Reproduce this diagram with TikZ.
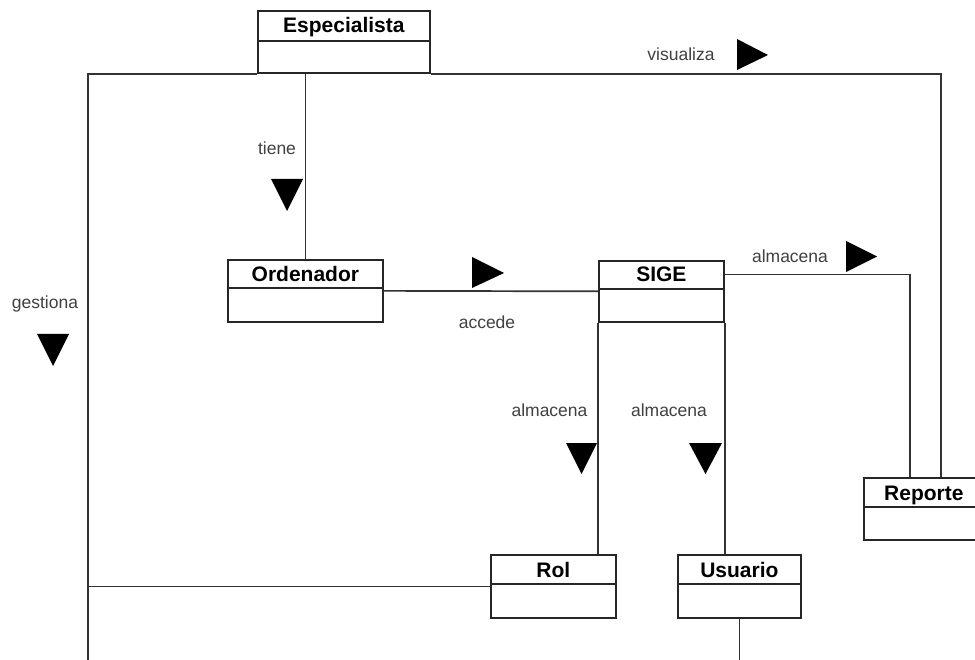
\documentclass[tikz,border=0pt]{standalone}
\usepackage{fontspec}
\setmainfont{Liberation Sans}
\usetikzlibrary{calc}
\begin{document}
\begin{tikzpicture}[x=1pt,y=-1pt,
  classbox/.style={draw=black!85,line width=1.7pt,fill=white,inner sep=0pt,anchor=north west},
  classname/.style={font=\fontsize{21}{24}\selectfont\bfseries,inner sep=0pt,text=black,anchor=base},
  divider/.style={draw=black!85,line width=1.7pt},
  conn/.style={draw=black!80,line width=1.7pt},
  lbl/.style={font=\fontsize{17.5}{20}\selectfont,inner sep=0pt,text=black!75,anchor=base},
  tri/.style={fill=black}]
\useasboundingbox (0,0) rectangle (975,660);
\clip (0,0) rectangle (975,660);
% classes
\node[classbox,minimum width=172pt,minimum height=62pt] (esp) at (257,10) {};
\node[classbox,minimum width=155pt,minimum height=62pt] (ord) at (227,259) {};
\node[classbox,minimum width=125pt,minimum height=61pt] (sige) at (598,260) {};
\node[classbox,minimum width=125pt,minimum height=63pt] (rol) at (490,554) {};
\node[classbox,minimum width=123pt,minimum height=63pt] (usu) at (677,554) {};
\node[classbox,minimum width=120pt,minimum height=62pt] (rep) at (863,477) {};
% dividers
\draw[divider] ([yshift=-31pt]esp.north west) -- ([yshift=-31pt]esp.north east);
\draw[divider] ([yshift=-29pt]ord.north west) -- ([yshift=-29pt]ord.north east);
\draw[divider] ([yshift=-29pt]sige.north west) -- ([yshift=-29pt]sige.north east);
\draw[divider] ([yshift=-30pt]rol.north west) -- ([yshift=-30pt]rol.north east);
\draw[divider] ([yshift=-30pt]usu.north west) -- ([yshift=-30pt]usu.north east);
\draw[divider] ([yshift=-30pt]rep.north west) -- ([yshift=-30pt]rep.north east);
% names
\node[classname] (espn) at ($(esp.north)+(0,23)$) {Especialista};
\node[classname] (ordn) at ($(ord.north)+(0,23)$) {Ordenador};
\node[classname] (sigen) at ($(sige.north)+(0,22)$) {SIGE};
\node[classname] (roln) at ($(rol.north)+(0,23)$) {Rol};
\node[classname] (usun) at ($(usu.north)+(0,23)$) {Usuario};
\node[classname] (repn) at ($(rep.north)+(0,23)$) {Reporte};
% coordinates
\coordinate (gl) at (88,660);
\coordinate (repA) at ($(rep.north west)+(78,0)$);
\coordinate (repB) at ($(rep.north west)+(47,0)$);
\coordinate (sigeNE) at ($(sige.north east)+(0,14.5)$);
% connectors
\draw[conn] (esp.south west) -| (gl);
\draw[conn] (rol.west) -- (rol.west -| gl);
\draw[conn] (esp.south east) -| (repA);
\draw[conn] (ord.north |- esp.south) -- (ord.north);
\draw[conn] (ord.east) -- (sige.west);
\draw[conn] (sigeNE) -| (repB);
\draw[conn] (sige.south west) -- (sige.south west |- rol.north);
\draw[conn] (sige.south east) -- (sige.south east |- usu.north);
\draw[conn] (usu.south) -- (usu.south |- gl);
% labels
\node[lbl] (lvis) at (681,61) {visualiza};
\node[lbl] (ltie) at (277,155) {tiene};
\node[lbl] (lacc) at (487,329) {accede};
\node[lbl] (lalm1) at (790,263) {almacena};
\node[lbl] (lges) at (45,309) {gestiona};
\node[lbl] (lalm2) at (549.5,416) {almacena};
\node[lbl] (lalm3) at (669,416) {almacena};
% direction triangles
\fill[tri] (737,39) -- (768,55) -- (737,70) -- cycle;
\fill[tri] (271,179) -- (303,179) -- (287,211) -- cycle;
\fill[tri] (472,257) -- (504,273) -- (472,288) -- cycle;
\fill[tri] (846,241) -- (877,256.5) -- (846,272) -- cycle;
\fill[tri] (37,334) -- (69,334) -- (53,366) -- cycle;
\fill[tri] (566,443) -- (597,443) -- (581.5,474) -- cycle;
\fill[tri] (689,443) -- (722,443) -- (705.5,474) -- cycle;
\end{tikzpicture}
\end{document}
